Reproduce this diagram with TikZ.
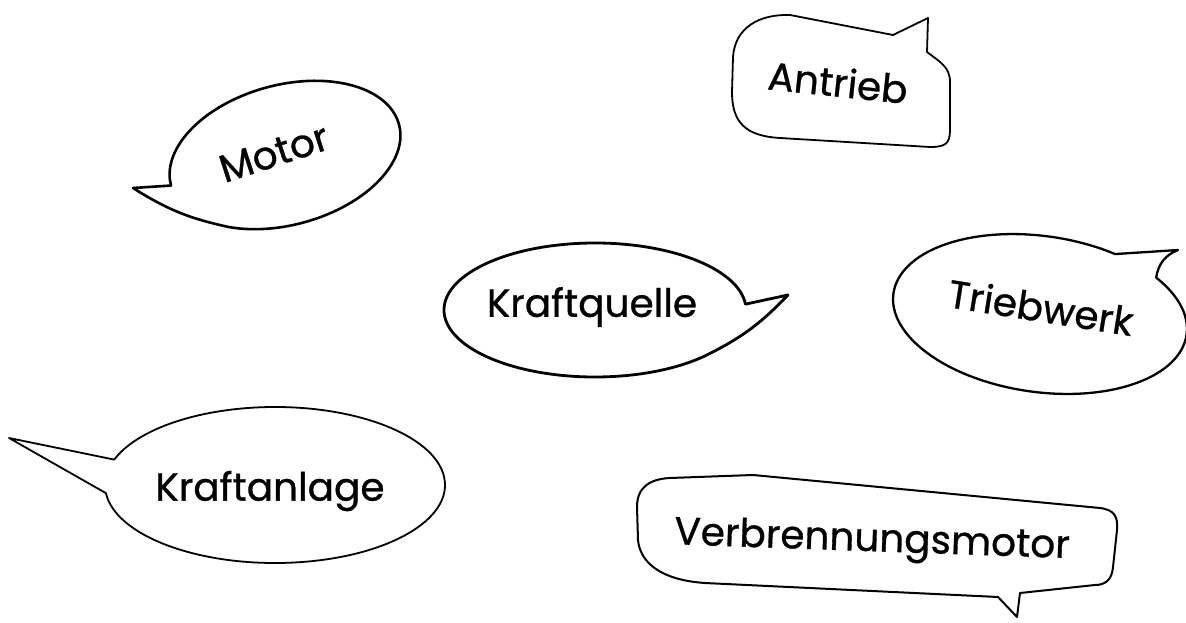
\documentclass[tikz,border=0pt]{standalone}
\usepackage{fontspec}
\setmainfont{Poppins}[FakeBold=0.8]
\usepackage{tikz}
\usetikzlibrary{calc}
\tikzset{
  bubble/.style={line width=1.8pt,line join=round,line cap=round},
  word/.style={font=\fontsize{39}{43}\selectfont,inner sep=0pt}
}
\begin{document}
\begin{tikzpicture}[x=1pt,y=1pt]
    \useasboundingbox (0,0) rectangle (1186,622);
    \coordinate (motortip) at (133,434);
    \coordinate (quelletip) at (788,327);
    \coordinate (werktip) at (1178,372);
    \coordinate (anlagetip) at (9,184);
    \begin{scope}[shift={(285,467)},rotate=15]
      \draw[bubble,line width=2.6pt] (232:118 and 70) arc[start angle=232,end angle=540,x radius=118,y radius=70] -- (motortip) to[bend right=10] (232:118 and 70) -- cycle;
    \end{scope}
    \draw[bubble] (893,587) -- (928,604) -- (927,570) .. controls (940,560) and (950,555) .. (950,540) -- (950,492) .. controls (950,478) and (945,475) .. (930,475) -- (780,484) .. controls (745,486) and (732,500) .. (732,530) -- (733,565) .. controls (735,595) and (760,608) .. (790,607) -- cycle;
    \begin{scope}[shift={(595,312)}]
      \draw[bubble,line width=2.8pt] (5:151 and 67) arc[start angle=5,end angle=317,x radius=151,y radius=67] to[bend right=10] (quelletip) -- cycle;
    \end{scope}
    \begin{scope}[shift={(1040,308)},rotate=-8]
      \draw[bubble,line width=2.3pt] (42:148 and 78) arc[start angle=42,end angle=-296.5,x radius=148,y radius=78] -- (werktip) to[bend right=30] (42:148 and 78) -- cycle;
    \end{scope}
    \begin{scope}[shift={(275,137)}]
      \draw[bubble] (186:170 and 78) arc[start angle=186,end angle=521,x radius=170,y radius=78] -- (anlagetip) -- (186:170 and 78) -- cycle;
    \end{scope}
    \draw[bubble,line width=2pt] (670,144) -- (753,147) -- (1100,114) .. controls (1115,112) and (1118,105) .. (1117,92) -- (1113,55) .. controls (1112,42) and (1105,37) .. (1095,37) -- (1020,29) -- (1017,5) -- (998,25) -- (705,39) .. controls (660,42) and (640,60) .. (638,82) -- (637,115) .. controls (637,135) and (650,143) .. (670,144) -- cycle;
    \node[word,rotate=18] (motor) at (274,469) {Motor};
    \node[word,rotate=-6] (antrieb) at (838,540) {Antrieb};
    \node[word] (kraftquelle) at (592,315) {Kraftquelle};
    \node[word,rotate=-9] (triebwerk) at (1041,315) {Triebwerk};
    \node[word] (kraftanlage) at (270,131) {Kraftanlage};
    \node[word,rotate=-2] (verbrennungsmotor) at (872,80) {Verbrennungsmotor};
\end{tikzpicture}
\end{document}
